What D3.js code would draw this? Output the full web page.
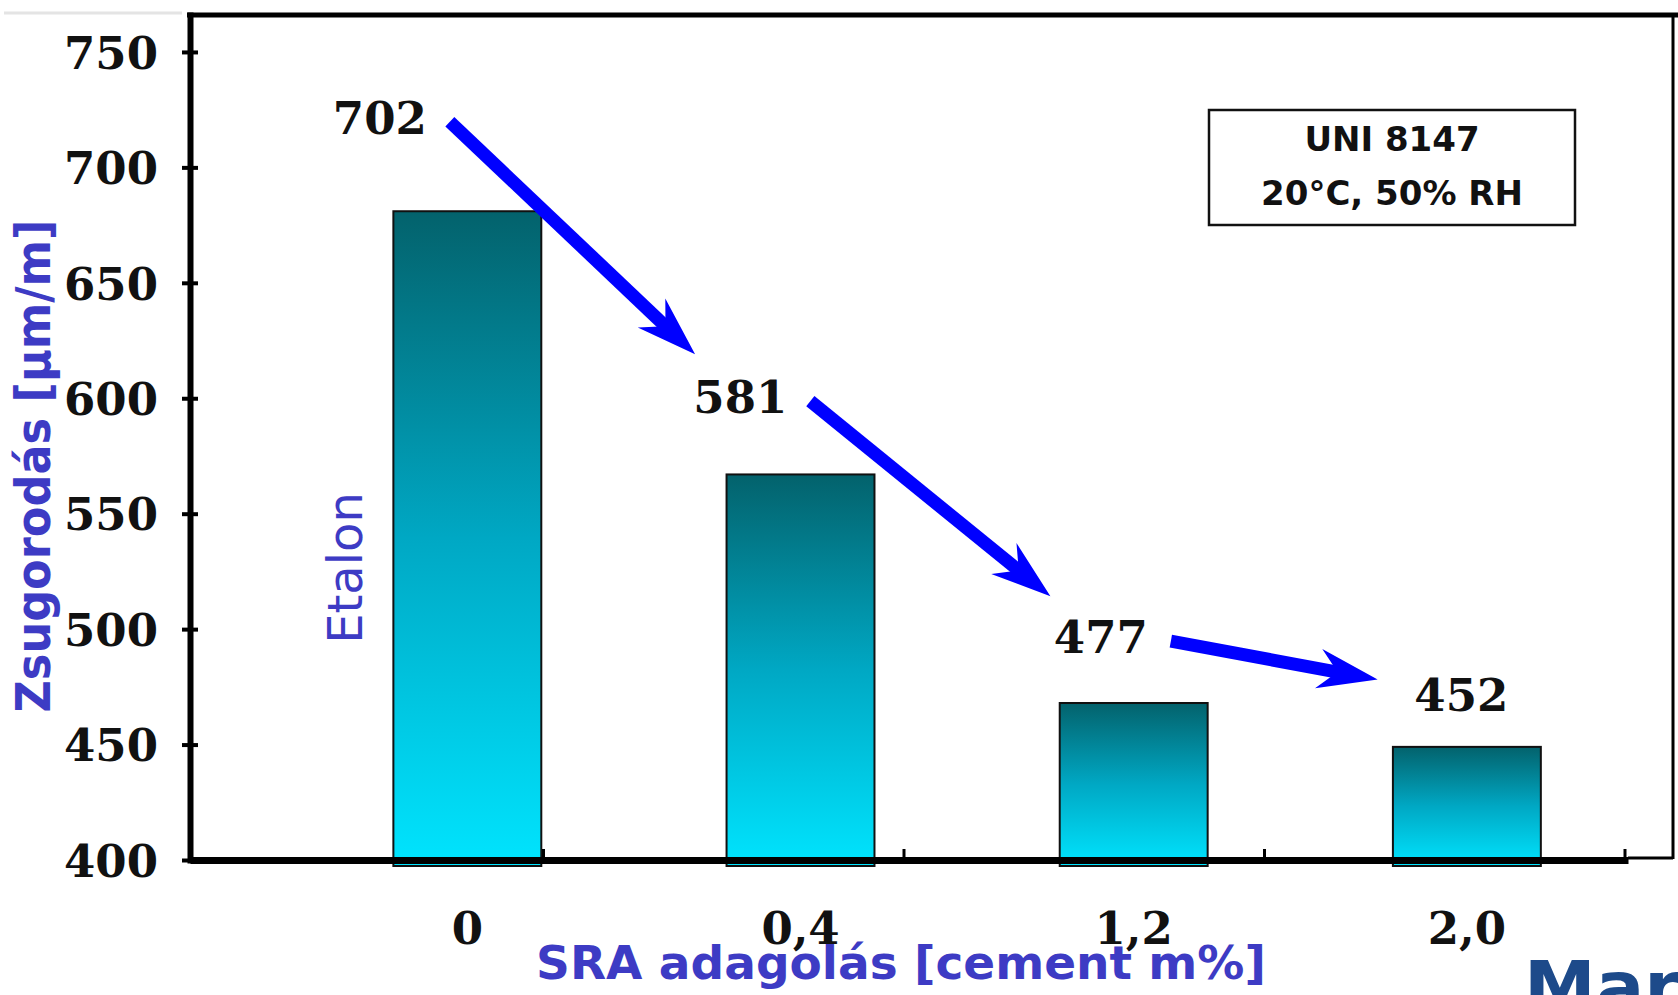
<!DOCTYPE html>
<html>
<head>
<meta charset="utf-8">
<script src="https://cdn.jsdelivr.net/npm/d3@7"></script>
<style>
  html, body { margin: 0; padding: 0; background: #ffffff; }
  svg { display: block; }
</style>
</head>
<body>
<script>
// ---- data ----
const categories = ["0", "0,4", "1,2", "2,0"];
const barValues = [681, 567, 468, 449];
const labelValues = [702, 581, 477, 452];
const yTicks = [400, 450, 500, 550, 600, 650, 700, 750];
const legendLines = ["UNI 8147", "20°C, 50% RH"];
const yTitle = "Zsugorodás [μm/m]";
const xTitle = "SRA adagolás [cement m%]";
const refLabel = "Etalon";
const cornerText = "Mar";

// ---- layout ----
const W = 1678, H = 995;
const plotLeft = 190, plotRight = 1628, plotTop = 15, plotBottom = 860;
const numFont = "'DejaVu Serif', serif";
const sansFont = "'DejaVu Sans', Verdana, sans-serif";
const titleColor = "#3d3bc4";

const svg = d3.select("body").append("svg").attr("width", W).attr("height", H);

const defs = svg.append("defs");
const grad = defs.append("linearGradient").attr("id", "barGrad")
  .attr("x1", 0).attr("y1", 0).attr("x2", 0).attr("y2", 1);
grad.append("stop").attr("offset", "0%").attr("stop-color", "#03626c");
grad.append("stop").attr("offset", "50%").attr("stop-color", "#00a8c4");
grad.append("stop").attr("offset", "100%").attr("stop-color", "#00e4fe");

// scales
const y = d3.scaleLinear().domain([400, 766]).range([plotBottom, plotTop]);
const xBar = d3.scaleBand().domain(categories).range([plotLeft, plotRight])
  .paddingInner(0.556).paddingOuter(0.436).align(0.7);
const xBand = d3.scaleBand().domain(categories).range([183, 1625]);

// faint slide line at top-left
svg.append("line").attr("x1", 4).attr("x2", 182).attr("y1", 13).attr("y2", 13)
  .attr("stroke", "#e4e4e4").attr("stroke-width", 3);

// frame (top + right)
svg.append("line").attr("x1", plotLeft - 3).attr("x2", W).attr("y1", plotTop).attr("y2", plotTop)
  .attr("stroke", "#000").attr("stroke-width", 5);
svg.append("line").attr("x1", 1673).attr("x2", 1673).attr("y1", plotTop).attr("y2", plotBottom - 1)
  .attr("stroke", "#000").attr("stroke-width", 3);
svg.append("line").attr("x1", plotRight).attr("x2", 1673).attr("y1", plotBottom - 2).attr("y2", plotBottom - 2)
  .attr("stroke", "#000").attr("stroke-width", 3);

// bars
svg.append("g").selectAll("rect").data(categories).join("rect")
  .attr("x", c => xBar(c))
  .attr("y", (c, i) => y(barValues[i]))
  .attr("width", xBar.bandwidth())
  .attr("height", (c, i) => y(400) - y(barValues[i]) + 6)
  .attr("fill", "url(#barGrad)")
  .attr("stroke", "#111")
  .attr("stroke-width", 2);

// y axis
const yAxis = svg.append("g").attr("transform", `translate(${plotLeft},0)`)
  .call(d3.axisLeft(y).tickValues(yTicks).tickSize(0).tickSizeOuter(0).tickPadding(32));
yAxis.select(".domain").attr("stroke", "#000").attr("stroke-width", 6).attr("stroke-linecap", "square");
yAxis.selectAll(".tick text")
  .attr("font-family", numFont).attr("font-weight", "bold").attr("font-size", 45).attr("fill", "#111")
  .attr("dy", "0.36em");
yAxis.selectAll(".tick").append("line")
  .attr("x1", -8).attr("x2", 8).attr("stroke", "#000").attr("stroke-width", 4);

// x axis
const xAxis = svg.append("g").attr("transform", `translate(0,${plotBottom})`)
  .call(d3.axisBottom(xBar).tickSize(0).tickSizeOuter(0).tickPadding(52));
xAxis.select(".domain").attr("stroke", "#000").attr("stroke-width", 7);
xAxis.selectAll(".tick text")
  .attr("font-family", numFont).attr("font-weight", "bold").attr("font-size", 45).attr("fill", "#111");
svg.append("g").selectAll("line").data(categories).join("line")
  .attr("x1", c => xBand(c) + xBand.bandwidth()).attr("x2", c => xBand(c) + xBand.bandwidth())
  .attr("y1", plotBottom).attr("y2", plotBottom - 11)
  .attr("stroke", "#000").attr("stroke-width", 3);

// value labels
const labelPos = categories.map((c, i) => ({
  x: xBand(c) + 0.546 * xBand.step(),
  y: y(labelValues[i]) - 45
}));
svg.append("g").selectAll("text").data(categories).join("text")
  .attr("x", (c, i) => labelPos[i].x)
  .attr("y", (c, i) => labelPos[i].y)
  .attr("dy", "0.36em")
  .attr("text-anchor", "middle")
  .attr("font-family", numFont).attr("font-weight", "bold").attr("font-size", 45).attr("fill", "#111")
  .text((c, i) => labelValues[i]);

// arrows between consecutive labels
const arrowG = svg.append("g");
const rx = 88, ry = 50, L = 60, HW = 20, shaftW = 13;
for (let i = 0; i < labelPos.length - 1; i++) {
  const s = { x: labelPos[i].x + 70, y: labelPos[i].y + 4 };
  const c = labelPos[i + 1];
  const dx = c.x - s.x, dy = c.y - s.y, len = Math.hypot(dx, dy);
  const ux = dx / len, uy = dy / len;
  const t = 1 / Math.sqrt((ux / rx) ** 2 + (uy / ry) ** 2);
  const tip = { x: c.x - t * ux, y: c.y - t * uy };
  const nx = -uy, ny = ux;
  const notch = { x: tip.x - 0.68 * L * ux, y: tip.y - 0.68 * L * uy };
  arrowG.append("line")
    .attr("x1", s.x).attr("y1", s.y).attr("x2", notch.x + 4 * ux).attr("y2", notch.y + 4 * uy)
    .attr("stroke", "#0000ff").attr("stroke-width", shaftW);
  const p = d3.path();
  p.moveTo(tip.x, tip.y);
  p.lineTo(tip.x - L * ux + HW * nx, tip.y - L * uy + HW * ny);
  p.lineTo(notch.x, notch.y);
  p.lineTo(tip.x - L * ux - HW * nx, tip.y - L * uy - HW * ny);
  p.closePath();
  arrowG.append("path").attr("d", p.toString()).attr("fill", "#0000ff");
}

// legend box
const lg = svg.append("g");
lg.append("rect").attr("x", 1209).attr("y", 110).attr("width", 366).attr("height", 115)
  .attr("fill", "#fff").attr("stroke", "#111").attr("stroke-width", 2.5);
lg.selectAll("text").data(legendLines).join("text")
  .attr("x", 1392).attr("y", (d, i) => 139 + i * 54).attr("dy", "0.36em")
  .attr("text-anchor", "middle")
  .attr("font-family", sansFont).attr("font-weight", "bold").attr("font-size", 34).attr("fill", "#111")
  .text(d => d);

// reference label
svg.append("text").attr("transform", `translate(${xBar(categories[0]) - 31},568) rotate(-90)`)
  .attr("text-anchor", "middle")
  .attr("font-family", sansFont).attr("font-size", 48).attr("fill", titleColor)
  .text(refLabel);

// axis titles
svg.append("text").attr("transform", "translate(50,466) rotate(-90)")
  .attr("text-anchor", "middle")
  .attr("font-family", sansFont).attr("font-weight", "bold").attr("font-size", 48)
  .attr("textLength", 493).attr("lengthAdjust", "spacingAndGlyphs")
  .attr("fill", titleColor)
  .text(yTitle);
svg.append("text").attr("x", 901).attr("y", 979)
  .attr("text-anchor", "middle")
  .attr("font-family", sansFont).attr("font-weight", "bold").attr("font-size", 47)
  .attr("fill", titleColor)
  .text(xTitle);

// slide text cut at the corner
svg.append("text").attr("x", 1524).attr("y", 1012)
  .attr("font-family", sansFont).attr("font-weight", "bold").attr("font-size", 72)
  .attr("fill", "#1d4a8a")
  .text(cornerText);
</script>
</body>
</html>
